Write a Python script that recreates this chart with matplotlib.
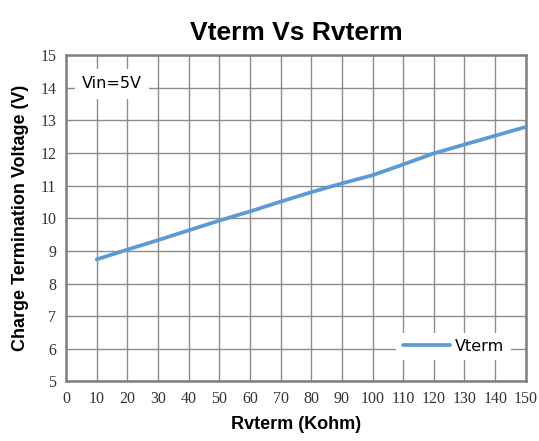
import matplotlib.pyplot as plt

# podaci ocitani sa grafika
rvterm = [10, 20, 30, 40, 50, 60, 70, 80, 90, 100, 110, 120, 130, 140, 150]
vterm = [8.74, 9.04, 9.33, 9.63, 9.93, 10.21, 10.51, 10.80, 11.07, 11.32,
         11.65, 11.99, 12.26, 12.53, 12.80]

x_ticks = list(range(0, 151, 10))
y_ticks = list(range(5, 16))

fig = plt.figure(figsize=(5.39, 4.41), dpi=100)
ax = fig.add_axes([0.1225, 0.135, 0.853, 0.740])

ax.plot(rvterm, vterm, color="#5B9BD5", lw=2.7, label="Vterm",
        solid_capstyle="round", zorder=3)

ax.set_xlim(0, 150)
ax.set_ylim(5, 15)
ax.set_xticks(x_ticks)
ax.set_yticks(y_ticks)
ax.grid(True, color="#8c8c8c", lw=1.0)
ax.set_axisbelow(True)
ax.tick_params(length=0, pad=7, labelsize=11.5)
for lab in ax.get_xticklabels() + ax.get_yticklabels():
    lab.set_family("Liberation Serif")
    lab.set_color("#333333")
for s in ax.spines.values():
    s.set_color("#7f7f7f")
    s.set_linewidth(1.8)

ax.set_title("Vterm Vs Rvterm", fontsize=19, fontweight="bold",
             family="Liberation Sans", pad=11)
ax.set_xlabel("Rvterm (Kohm)", fontsize=13, fontweight="bold",
              family="Liberation Sans", labelpad=6)
ax.set_ylabel("Charge Termination Voltage (V)", fontsize=13, fontweight="bold",
              family="Liberation Sans", labelpad=8)

ax.text(15, 14.12, "Vin=5V", fontsize=11.5, family="DejaVu Sans", ha="center",
        va="center", zorder=4,
        bbox=dict(boxstyle="square,pad=0.45", fc="white", ec="none"))

leg = ax.legend(loc="lower right", bbox_to_anchor=(0.985, 0.04), frameon=True,
                fancybox=False, edgecolor="none", framealpha=1,
                prop={"family": "DejaVu Sans", "size": 11.5},
                handlelength=3.0, handletextpad=0.3, borderpad=0.4)

fig.savefig("out.png", dpi=100, facecolor="white")
